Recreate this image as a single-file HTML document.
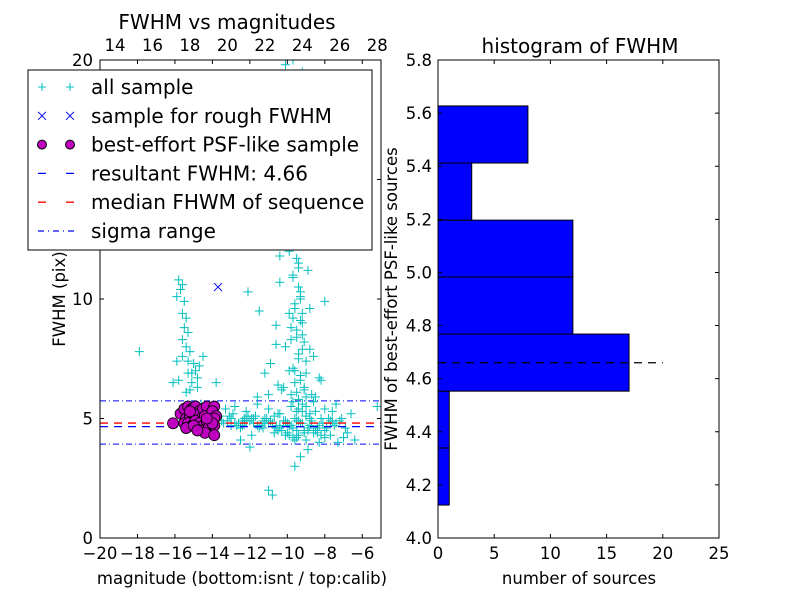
<!DOCTYPE html>
<html><head><meta charset="utf-8"><style>
body{margin:0;background:#fff}
svg{font-family:"DejaVu Sans","Liberation Sans",sans-serif}
</style></head><body>
<svg id="c" width="800" height="600"></svg>
<script>
// ---- data ----
const allSampleX = [-15.8,-15.7,-15.9,-15.6,-15.5,-15.6,-15.4,-15.5,-15.3,-15.6,-15.4,-15.2,-15.3,-15.0,-14.9,-15.3,-15.1,-14.8,-15.2,-15.4,-15.9,-14.5,-14.7,-15.8,-16.1,-14.8,-15.6,-15.1,-17.9,-13.8,-14.6,
-10.1,-9.9,-10.3,-9.7,-10.0,-9.6,-9.8,-10.2,-9.5,-9.9,-9.4,-9.7,-10.4,-9.3,-9.6,-9.9,-9.2,-9.5,-9.8,-10.1,-9.4,-9.0,-9.7,-9.3,-9.6,-9.1,-9.8,-9.4,-9.0,-9.5,-8.8,-9.2,-9.7,-10.6,-10.9,-11.2,-10.5,-8.6,-8.3,-8.7,-11.5,-12.1,-10.8,-8.9,-9.1,-9.3,-8.5,-10.2,-11.0,-9.9,-10.6,-9.8,-8.2,-8.0,-12.6,-9.0,-8.8,-10.4,
-9.6,-9.5,-9.7,-9.4,-9.6,-9.3,-9.5,-9.2,-9.4,-9.6,-9.3,-9.1,-9.5,-9.7,-9.2,-9.0,-9.4,-9.8,-9.3,-9.1,-9.5,-9.6,-9.4,-9.2,-9.0,
-13.6,-13.2,-12.9,-12.6,-12.3,-12.0,-11.7,-11.4,-11.1,-10.8,-10.5,-10.2,-9.9,-9.6,-9.3,-9.0,-8.7,-8.4,-8.1,-7.8,-7.5,-7.2,-6.9,-13.4,-13.0,-12.7,-12.4,-12.1,-11.8,-11.5,-11.2,-10.9,-10.6,-10.3,-10.0,-9.7,-9.4,-9.1,-8.8,-8.5,-8.2,-7.9,-7.6,-13.3,-12.8,-12.2,-11.6,-11.0,-10.4,-9.8,-9.2,-8.6,-8.0,-7.4,-6.6,-5.2,-8.9,-8.4,-9.5,-10.7,-11.9,-7.0,-6.4,-8.3,-7.7,-12.5,-11.3,-10.1,-9.0,-8.0,-7.3,-6.8,-9.6,-10.5,-12.0,-9.3,-11.0,-10.8,-9.6,-8.9,-9.9,-10.3,-9.2,-9.7,-11.6,-9.5,-12.4,-23,-10.0,-8.8,-10.4,
-13.5,-13.1,-12.8,-12.5,-12.2,-11.9,-11.6,-11.3,-11.0,-10.7,-10.4,-10.1,-9.8,-9.5,-9.2,-8.9,-8.6,-8.3,-8.0,-7.7,-7.4,-7.1,-13.0,-12.3,-11.8,-11.2,-10.6,-10.0,-9.4,-8.8,-8.2,-7.6,-9.7,-9.1,-8.5,-8.1,-7.9,-8.7,-9.3,-10.9];
const allSampleY = [10.8,10.4,10.1,10.6,9.9,9.4,9.2,8.8,8.6,8.3,8.0,7.8,7.4,7.3,7.0,6.9,6.5,6.7,6.2,6.1,7.4,7.6,7.2,6.6,6.5,6.3,7.6,6.9,7.8,6.5,5.6,
19.8,18.6,17.5,16.9,15.8,14.7,14.0,13.2,12.6,12.0,11.5,11.0,10.7,10.3,9.8,9.4,9.0,8.7,8.3,8.0,7.7,7.4,7.1,6.8,6.5,6.2,6.0,5.8,5.5,5.3,7.9,8.5,9.2,8.1,7.3,6.9,6.4,7.6,6.7,6.0,9.5,10.3,12.5,11.2,13.6,10.0,5.9,6.3,6.0,7.0,8.9,15.2,6.6,9.9,17.0,12.8,9.6,11.8,
12.3,11.7,10.9,10.5,9.6,9.1,8.4,7.9,7.5,7.0,6.6,6.3,6.1,5.7,5.6,5.9,5.4,8.8,10.1,8.2,13.1,14.3,11.3,9.4,6.9,
5.1,4.9,5.2,4.8,5.0,4.9,5.1,4.7,5.0,4.8,5.2,4.9,4.7,5.0,4.8,5.1,4.9,4.6,4.8,5.0,4.7,4.9,4.6,4.8,5.0,4.7,4.9,5.1,4.8,4.6,5.0,4.9,4.7,4.5,4.8,4.6,4.9,4.4,4.7,4.5,4.3,4.6,5.3,5.4,5.5,5.3,5.6,5.4,5.2,5.5,5.3,5.7,5.4,5.6,5.2,5.5,4.5,4.4,4.2,4.4,4.3,4.2,4.1,4.0,4.3,4.1,4.6,4.3,4.1,4.2,4.0,4.4,4.1,4.5,3.8,3.4,2.0,1.8,3.0,3.7,4.3,6.2,19.5,20,5.9,4.9,4.7,4.5,
4.8,5.0,4.7,4.9,5.1,4.8,4.6,4.9,5.0,4.7,4.9,4.8,5.1,4.6,4.9,4.7,4.5,4.8,4.6,4.4,4.7,4.5,4.9,4.8,5.0,4.7,4.9,5.0,4.8,4.6,4.4,4.3,5.2,5.0,4.9,4.2,4.5,5.3];
const roughX = [-13.7];
const roughY = [10.5];
const bestX = [-16.1,-15.7,-15.5,-15.3,-15.1,-14.9,-14.7,-14.5,-14.3,-14.1,-13.9,-15.4,-15.2,-15.0,-14.8,-14.6,-14.4,-14.2,-14.0,-13.8,-15.5,-15.3,-15.1,-14.9,-14.7,-14.5,-14.3,-14.1,-13.9,-15.4,-15.0,-14.6,-14.2,-13.9,-14.4,-13.9,-14.8,-15.2,-14.0,-14.3];
const bestY = [4.8,5.2,5.4,5.5,5.4,5.5,5.3,5.4,5.5,5.2,5.5,5.0,5.1,5.2,4.9,5.0,5.1,4.9,5.3,5.1,4.8,4.8,4.7,4.9,4.8,4.7,4.9,4.8,5.0,4.6,4.7,4.5,4.6,4.7,4.4,4.3,4.5,5.3,4.8,5.0];
const resultFWHM = 4.66;
const medianFWHM = 4.81;
const sigmaRange = [3.93, 5.74];
const binEdges = [4.124,4.339,4.553,4.768,4.983,5.197,5.412,5.627];
const binCounts = [1,1,17,12,12,3,8];
const xTicksL = [-20,-18,-16,-14,-12,-10,-8,-6];
const xTicksTop = [14,16,18,20,22,24,26,28];
const yTicksL = [0,5,10,15,20];
const xTicksR = [0,5,10,15,20,25];
const yTicksR = [4.0,4.2,4.4,4.6,4.8,5.0,5.2,5.4,5.6,5.8];

const NS="http://www.w3.org/2000/svg";
const svg=document.getElementById('c');
function mk(tag,attrs,parent){const e=document.createElementNS(NS,tag);for(const k in attrs)e.setAttribute(k,attrs[k]);(parent||svg).appendChild(e);return e;}
function txt(s,x,y,anchor,size,parent){const t=mk('text',{x:x,y:y,'text-anchor':anchor,'font-size':size},parent);t.textContent=s;return t;}

const L={x0:100,x1:381,y0:60,y1:538};
const xl=v=>L.x0+(v+20)/15*(L.x1-L.x0);
const xt=v=>xl(v-33.2);
const yl=v=>L.y1-v/20*(L.y1-L.y0);
const R={x0:438,x1:719,y0:60,y1:538};
const xr=v=>R.x0+v/25*(R.x1-R.x0);
const yr=v=>R.y1-(v-4)/1.8*(R.y1-R.y0);
const TF=16.5;

const gL=mk('g',{});


mk('defs',{}).innerHTML='<clipPath id="cl"><rect x="100" y="60" width="281" height="478"/></clipPath>';
const pts=mk('g',{'clip-path':'url(#cl)'},gL);
const sl1=mk('line',{x1:L.x0,x2:L.x1,y1:yl(sigmaRange[0]),y2:yl(sigmaRange[0]),stroke:'#00f','stroke-dasharray':'6,3,1,3'},pts);


const sl2=mk('line',{x1:L.x0,x2:L.x1,y1:yl(sigmaRange[1]),y2:yl(sigmaRange[1]),stroke:'#00f','stroke-dasharray':'6,3,1,3'},pts);


allSampleX.forEach((x,i)=>{const px=xl(x),py=yl(allSampleY[i]);
 const p=mk('path',{d:`M${px-4.5},${py}h9M${px},${py-4.5}v9`,stroke:'#00bfbf','stroke-width':1},pts);
 
 });
const ml=mk('line',{x1:L.x0,x2:L.x1,y1:yl(medianFWHM),y2:yl(medianFWHM),stroke:'#f00','stroke-dasharray':'8,6','stroke-width':1.3},pts);


const rl=mk('line',{x1:L.x0,x2:L.x1,y1:yl(resultFWHM),y2:yl(resultFWHM),stroke:'#00f','stroke-dasharray':'8,6','stroke-width':1.3},pts);


bestX.forEach((x,i)=>{const c=mk('circle',{cx:xl(x),cy:yl(bestY[i]),r:5.5,fill:'#bf00bf',stroke:'#000','stroke-width':0.8},pts);
 
 });
roughX.forEach((x,i)=>{const px=xl(x),py=yl(roughY[i]);
 const p=mk('path',{d:`M${px-4},${py-4}l8,8M${px-4},${py+4}l8,-8`,stroke:'#00f'},pts);
 
 });
mk('rect',{x:L.x0,y:L.y0,width:L.x1-L.x0,height:L.y1-L.y0,fill:'none',stroke:'#000'},gL);
xTicksL.forEach(v=>{const x=xl(v);mk('path',{d:`M${x},${L.y1}v-4M${x},${L.y0}v4`,stroke:'#000'},gL);
 const t=txt((v<0?'\u2212':'')+Math.abs(v),x,559,'middle',TF,gL);});
xTicksTop.forEach(v=>{const t=txt(String(v),xt(v),51,'middle',TF,gL);});
yTicksL.forEach(v=>{const y=yl(v);mk('path',{d:`M${L.x0},${y}h4M${L.x1},${y}h-4`,stroke:'#000'},gL);
 const t=txt(String(v),93,y+6,'end',TF,gL);});
let t;
t=txt('FWHM vs magnitudes',227,29,'middle',20,gL);
t=txt('magnitude (bottom:isnt / top:calib)',242,584,'middle',TF,gL);
t=txt('FWHM (pix)',0,0,'middle',TF,gL);t.setAttribute('transform','translate(65,299) rotate(-90)');

const lg=mk('g',{},gL);


mk('rect',{x:28,y:70,width:344,height:180,fill:'#fff',stroke:'#000'},lg);
const entries=['all sample','sample for rough FWHM','best-effort PSF-like sample','resultant FWHM: 4.66','median FHWM of sequence','sigma range'];
entries.forEach((s,i)=>{const y=87+i*28.8;
 if(i==0){[42,70].forEach(x=>mk('path',{d:`M${x-4},${y}h8M${x},${y-4}v8`,stroke:'#00bfbf'},lg));}
 if(i==1){[42,70].forEach(x=>mk('path',{d:`M${x-4},${y-4}l8,8M${x-4},${y+4}l8,-8`,stroke:'#00f'},lg));}
 if(i==2){[42,70].forEach(x=>mk('circle',{cx:x,cy:y,r:4.5,fill:'#bf00bf',stroke:'#000'},lg));}
 if(i==3)mk('line',{x1:38,x2:76,y1:y,y2:y,stroke:'#00f','stroke-dasharray':'8,20','stroke-width':1.3},lg);
 if(i==4)mk('line',{x1:38,x2:76,y1:y,y2:y,stroke:'#f00','stroke-dasharray':'8,20','stroke-width':1.3},lg);
 if(i==5)mk('line',{x1:38,x2:76,y1:y,y2:y,stroke:'#00f','stroke-dasharray':'6,4,1,4','stroke-width':1.2},lg);
 const e=txt(s,91,y+7,'start',20,lg);});

const gR=mk('g',{});


binCounts.forEach((c,i)=>{const y0=yr(binEdges[i+1]),y1=yr(binEdges[i]);
 const b=mk('rect',{x:xr(0),y:y0,width:xr(c)-xr(0),height:y1-y0,fill:'#00f',stroke:'#000'},gR);
 
 });
const hl=mk('line',{x1:xr(0),x2:xr(20),y1:yr(resultFWHM),y2:yr(resultFWHM),stroke:'#000','stroke-dasharray':'8,6','stroke-width':1.3},gR);


mk('rect',{x:R.x0,y:R.y0,width:R.x1-R.x0,height:R.y1-R.y0,fill:'none',stroke:'#000'},gR);
xTicksR.forEach(v=>{const x=xr(v);mk('path',{d:`M${x},${R.y1}v-4M${x},${R.y0}v4`,stroke:'#000'},gR);
 const e=txt(String(v),x,559,'middle',TF,gR);});
yTicksR.forEach(v=>{const y=yr(v);mk('path',{d:`M${R.x0},${y}h4M${R.x1},${y}h-4`,stroke:'#000'},gR);
 const e=txt(v.toFixed(1),432,y+6,'end',TF,gR);});
t=txt('histogram of FWHM',580,53,'middle',20,gR);
t=txt('number of sources',579,584,'middle',TF,gR);
t=txt('FWHM of best-effort PSF-like sources',0,0,'middle',TF,gR);t.setAttribute('transform','translate(397,299) rotate(-90)');
</script>
</body></html>
